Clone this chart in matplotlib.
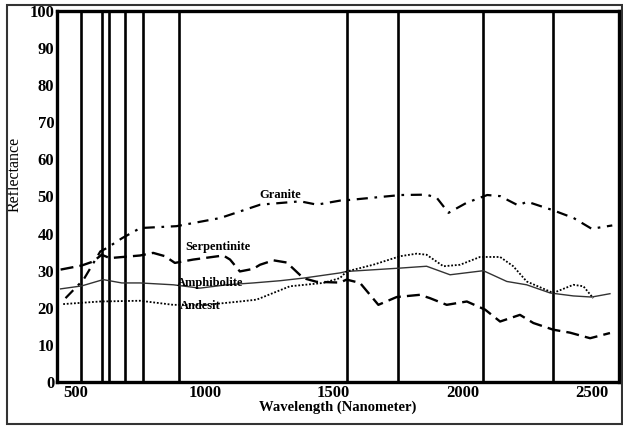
import matplotlib
matplotlib.use("Agg")
import matplotlib.pyplot as plt
from matplotlib.patches import Rectangle

band_edges = [520, 600, 630, 690, 760, 900, 1550, 1750, 2080, 2350]

granite_x = [460, 530, 595, 620, 680, 750, 890, 1060, 1215, 1370, 1435, 1525, 1550, 1760, 1860, 1900, 1945, 2015, 2095, 2145, 2215, 2250, 2350, 2430, 2500, 2580]
granite_y = [22.6, 27.6, 35.2, 36.1, 38.8, 41.5, 42.0, 44.2, 47.8, 48.7, 47.8, 48.9, 49.0, 50.4, 50.5, 49.6, 45.6, 48.3, 50.4, 50.1, 47.6, 48.6, 46.3, 44.2, 41.3, 42.2]

serp_x = [441, 523, 568, 600, 632, 749, 800, 846, 884, 955, 1072, 1098, 1136, 1188, 1214, 1266, 1318, 1382, 1434, 1524, 1550, 1602, 1673, 1744, 1834, 1873, 1938, 2016, 2087, 2145, 2222, 2274, 2351, 2416, 2494, 2571]
serp_y = [30.3, 31.4, 32.5, 34.3, 33.4, 34.1, 34.8, 33.9, 32.1, 33.0, 34.1, 33.0, 29.8, 30.5, 31.6, 32.8, 32.2, 28.0, 27.0, 26.8, 27.6, 26.7, 20.8, 22.9, 23.5, 22.6, 20.8, 21.7, 19.5, 16.3, 18.1, 15.9, 14.1, 13.3, 11.8, 13.2]

amph_x = [441, 523, 606, 678, 749, 878, 981, 1085, 1188, 1292, 1382, 1524, 1550, 1757, 1860, 1951, 2080, 2171, 2248, 2339, 2429, 2500, 2571]
amph_y = [25.1, 25.9, 27.6, 26.7, 26.7, 26.2, 25.3, 26.2, 26.7, 27.3, 28.0, 29.4, 29.8, 30.7, 31.2, 28.9, 30.0, 27.1, 26.2, 24.0, 23.2, 22.9, 23.8]

andes_x = [451, 594, 749, 878, 1007, 1136, 1201, 1330, 1459, 1524, 1550, 1653, 1757, 1822, 1860, 1925, 1990, 2067, 2145, 2196, 2248, 2351, 2429, 2468, 2506]
andes_y = [21.0, 21.7, 21.9, 20.8, 20.8, 21.7, 22.2, 25.8, 26.7, 28.0, 29.8, 31.6, 33.9, 34.6, 34.3, 31.2, 31.6, 33.7, 33.7, 31.2, 27.1, 24.0, 26.2, 25.8, 22.6]

x_ticks = [500, 1000, 1500, 2000, 2500]
y_ticks = [0, 10, 20, 30, 40, 50, 60, 70, 80, 90, 100]

labels = ["Granite", "Serpentinite", "Amphibolite", "Andesit"]
label_pos = [(1292, 50.5), (1051, 36.5), (1020, 26.8), (981, 20.5)]

plt.rcParams['font.family'] = ['Liberation Serif', 'DejaVu Serif']

fig = plt.figure(figsize=(6.23, 4.26), dpi=100)
ax = fig.add_axes([57/623, 44/426, (619-57)/623, (382-11)/426])

for e in band_edges:
    ax.axvline(e, color='black', lw=1.9, zorder=1)

ax.plot(granite_x, granite_y, color='black', lw=1.6, dashes=(5, 3, 1.2, 3), zorder=3)
ax.plot(serp_x, serp_y, color='black', lw=1.7, dashes=(5.5, 2.6), zorder=3)
ax.plot(amph_x, amph_y, color='#333333', lw=1.0, zorder=3)
ax.plot(andes_x, andes_y, color='black', lw=1.3, dashes=(1, 1), zorder=3)

for lab, (lx, ly) in zip(labels, label_pos):
    ax.text(lx, ly, lab, ha='center', va='center', fontsize=9, fontweight='bold', zorder=4)

ax.set_xlim(427, 2606)
ax.set_ylim(0, 100)
ax.set_xticks(x_ticks)
ax.set_yticks(y_ticks)
ax.tick_params(length=0, labelsize=12, pad=2)
for t in ax.get_xticklabels() + ax.get_yticklabels():
    t.set_fontweight('bold')
for s in ax.spines.values():
    s.set_linewidth(2.4)

ax.set_xlabel("Wavelength (Nanometer)", fontsize=10.5, fontweight='bold', labelpad=0)
ax.set_ylabel("Reflectance", fontsize=11.5)
ax.yaxis.set_label_coords(-0.062, 0.56)

fig.patches.append(Rectangle((7/623, 2/426), 615/623, 419/426, transform=fig.transFigure,
                             fill=False, edgecolor='#333333', lw=1.5))

fig.savefig("out.png", dpi=100)
